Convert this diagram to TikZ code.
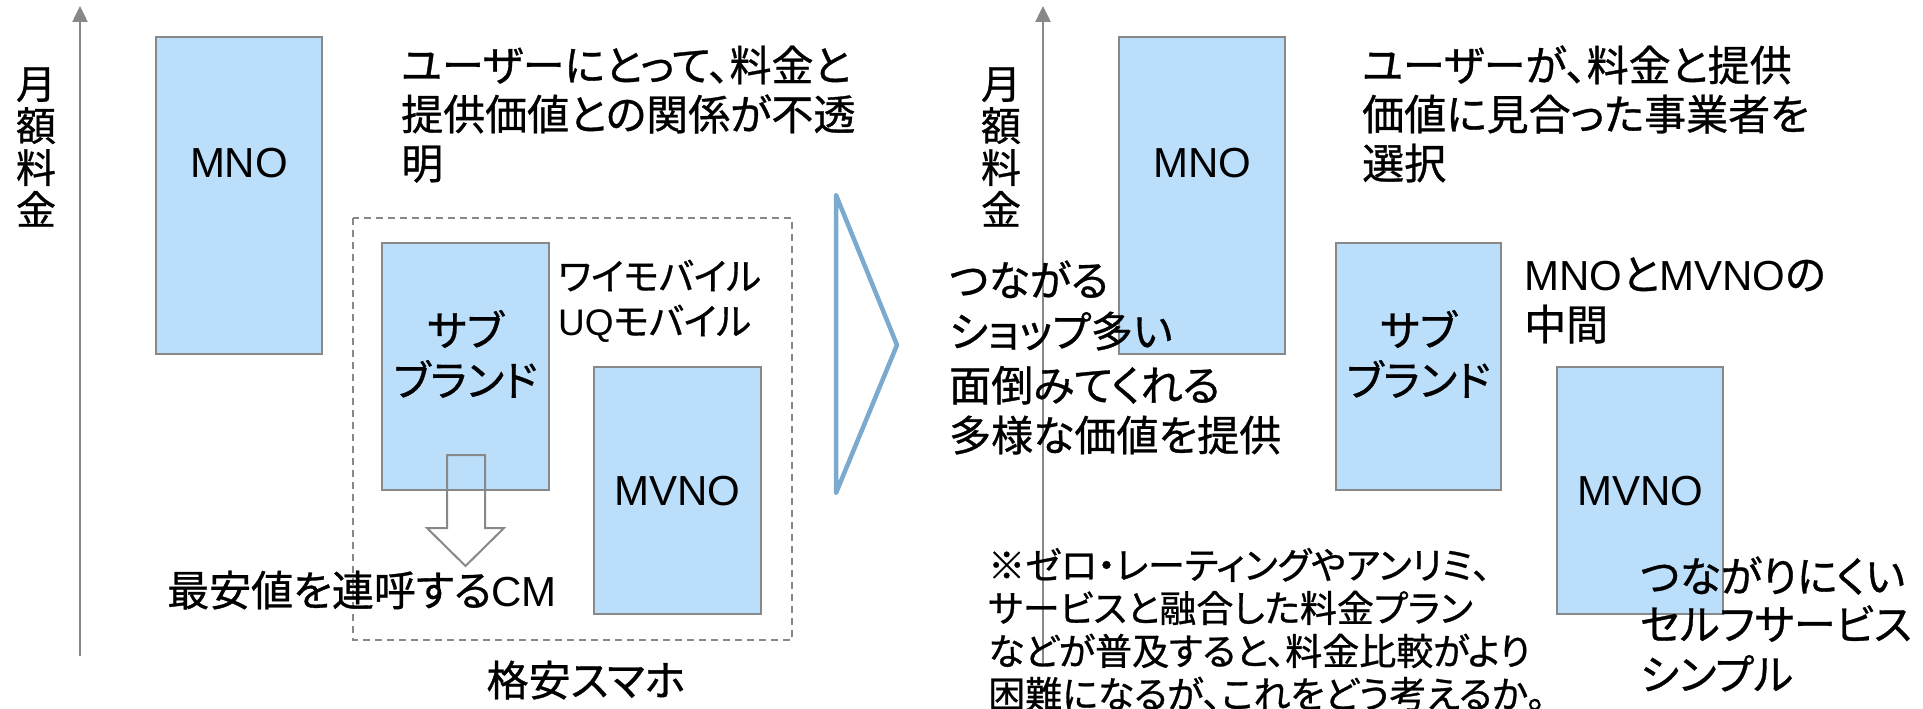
\documentclass[tikz,border=0pt]{standalone}
\usepackage{fontspec}
\setmainfont{Noto Sans CJK JP}[RawFeature=+palt, FakeBold=0.8]
\newfontfamily\lat{Liberation Sans}
\usetikzlibrary{arrows.meta}
\definecolor{boxblue}{RGB}{187,222,251}
\definecolor{edgegray}{RGB}{136,136,136}
\definecolor{chev}{RGB}{123,170,206}
\begin{document}
\begin{tikzpicture}[x=1pt,y=-1pt,
  barbox/.style={draw=edgegray, fill=boxblue, line width=2.5pt, inner sep=0pt},
  axisline/.style={draw=edgegray, line width=2.5pt, -{Triangle[length=16pt,width=15pt]}},
  txt/.style={anchor=base west, inner sep=0pt, font=\fontsize{42}{49}\selectfont},
  txtc/.style={anchor=base, inner sep=0pt, font=\fontsize{42}{49}\selectfont},
  small/.style={anchor=base west, inner sep=0pt, font=\fontsize{37}{42}\selectfont},
  latin/.style={anchor=base, inner sep=0pt, font=\lat\fontsize{42}{50}\selectfont},
  vlabel/.style={anchor=center, inner sep=0pt, align=center, font=\fontsize{40}{42}\selectfont},
  dashbox/.style={draw=edgegray, line width=2pt, dash pattern=on 7pt off 5pt},
  hollow/.style={draw=edgegray, line width=2pt, line join=miter},
  chevron/.style={draw=chev, line width=4.5pt, line join=round, line cap=round}
]
\useasboundingbox (0,0) rectangle (1923,709);

% ---------- left panel ----------
\coordinate (axLb) at (80,656);
\coordinate (axLt) at (80,6);
\draw[axisline] (axLb) -- (axLt);
\node[vlabel] (vlL) at (36,147) {月\\額\\料\\金};

\node[barbox, minimum width=166pt, minimum height=317pt] (mnoL) at (239,195.5) {};
\node[latin] (mnoLt) at (239,177) {MNO};

\coordinate (dbA) at (353,218);
\coordinate (dbB) at (792,640);
\draw[dashbox] (dbA) rectangle (dbB);

\node[barbox, minimum width=167pt, minimum height=247pt] (subL) at (465.5,366.5) {};
\node[txtc] (subL1) at (465.5,346) {サブ};
\node[txtc] (subL2) at (465.5,396) {ブランド};

\node[barbox, minimum width=167pt, minimum height=247pt] (mvnoL) at (677.5,490.5) {};
\node[latin] (mvnoLt) at (677.5,505) {MVNO};

\node[small] (ymL1) at (558,290) {ワイモバイル};
\node[small] (ymL2) at (558,335) {{\lat UQ}モバイル};

\draw[hollow] (447,455) -- (485,455) -- (485,528) -- (504,528) -- (465.5,566) -- (427,528) -- (447,528) -- cycle;

\node[txt] (cmL) at (167,606) {最安値を連呼する{\lat CM}};
\node[txtc] (kakuL) at (586,696) {格安スマホ};

\node[txt] (l1) at (401,81) {ユーザーにとって、料金と};
\node[txt] (l2) at (401,130) {提供価値との関係が不透};
\node[txt] (l3) at (401,179) {明};

% ---------- chevron ----------
\coordinate (chT) at (836,195);
\coordinate (chR) at (897,345);
\coordinate (chB) at (836,493);
\draw[chevron] (chT) -- (chR) -- (chB) -- cycle;

% ---------- right panel ----------
\coordinate (axRb) at (1043,665);
\coordinate (axRt) at (1043,6);
\draw[axisline] (axRb) -- (axRt);
\node[vlabel] (vlR) at (1001,147) {月\\額\\料\\金};

\node[barbox, minimum width=166pt, minimum height=317pt] (mnoR) at (1202,195.5) {};
\node[latin] (mnoRt) at (1202,177) {MNO};

\node[barbox, minimum width=165pt, minimum height=247pt] (subR) at (1418.5,366.5) {};
\node[txtc] (subR1) at (1418.5,346) {サブ};
\node[txtc] (subR2) at (1418.5,396) {ブランド};

\node[barbox, minimum width=166pt, minimum height=247pt] (mvnoR) at (1640,490.5) {};
\node[latin] (mvnoRt) at (1640,505) {MVNO};

\node[txt] (r1) at (1362,81) {ユーザーが、料金と提供};
\node[txt] (r2) at (1362,130) {価値に見合った事業者を};
\node[txt] (r3) at (1362,179) {選択};

\node[txt] (mid1) at (1524,290) {{\lat MNO}と{\lat MVNO}の};
\node[txt] (mid2) at (1524,340) {中間};

\node[txt] (tsu1) at (949,296) {つながる};
\node[txt] (tsu2) at (949,347) {ショップ多い};
\node[txt] (tsu3) at (949,401) {面倒みてくれる};
\node[txt] (tsu4) at (949,451) {多様な価値を提供};

\node[small] (nt1) at (988,579) {※ゼロ・レーティングやアンリミ、};
\node[small] (nt2) at (988,622) {サービスと融合した料金プラン};
\node[small] (nt3) at (988,665) {などが普及すると、料金比較がより};
\node[small] (nt4) at (988,708) {困難になるが、これをどう考えるか。};

\node[txt] (mv1) at (1640,592) {つながりにくい};
\node[txt] (mv2) at (1640,640) {セルフサービス};
\node[txt] (mv3) at (1640,690) {シンプル};
\end{tikzpicture}
\end{document}
